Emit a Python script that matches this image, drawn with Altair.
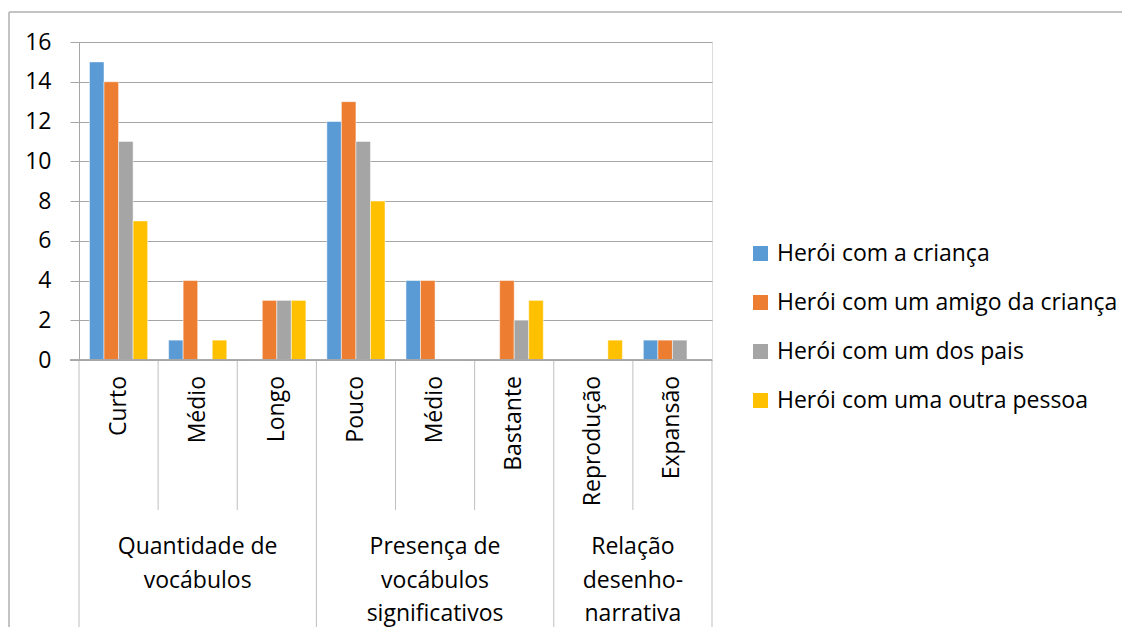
import altair as alt
import pandas as pd

subcats = ["Curto", "Médio", "Longo", "Pouco", "Médio", "Bastante", "Reprodução", "Expansão"]
series = ["Herói com a criança", "Herói com um amigo da criança",
          "Herói com um dos pais", "Herói com uma outra pessoa"]
colors = ["#5b9bd5", "#ed7d31", "#a5a5a5", "#ffc000"]
v_crianca = [15, 1, 0, 12, 4, 0, 0, 1]
v_amigo = [14, 4, 3, 13, 4, 4, 0, 1]
v_pais = [11, 0, 3, 11, 0, 2, 0, 1]
v_outra = [7, 1, 3, 8, 0, 3, 1, 0]
groups = [["Quantidade de", "vocábulos"],
          ["Presença de", "vocábulos", "significativos"],
          ["Relação", "desenho-", "narrativa"]]
group_start = [0, 3, 6]
group_end = [3, 6, 8]
y_ticks = [0, 2, 4, 6, 8, 10, 12, 14, 16]

FONT = "Open Sans"
FS = 23
W, H = 633, 318

keys = [f"{i:02d}" for i in range(len(subcats))]
rows = []
for vals, s in zip([v_crianca, v_amigo, v_pais, v_outra], series):
    for k, v in zip(keys, vals):
        rows.append({"key": k, "serie": s, "valor": v})
bars_df = pd.DataFrame(rows)

lab_df = pd.DataFrame({"key": keys, "label": subcats})

grp_df = pd.DataFrame({
    "center": [(a + b) / 2 for a, b in zip(group_start, group_end)],
    "label": groups,
})

inner_b = [i for i in range(1, len(subcats)) if i not in group_start]
outer_b = sorted(set(group_start + group_end))
sep_in = pd.DataFrame({"b": inner_b})
sep_out = pd.DataFrame({"b": outer_b})

xq = alt.Scale(domain=[0, len(subcats)], nice=False, zero=False)

bars = alt.Chart(bars_df).mark_bar(stroke="white", strokeWidth=0.5).encode(
    x=alt.X("key:N", sort=keys, axis=None,
            scale=alt.Scale(paddingInner=0, paddingOuter=0)),
    xOffset=alt.XOffset("serie:N", sort=series,
                        scale=alt.Scale(paddingInner=0, paddingOuter=0.72)),
    y=alt.Y("valor:Q", scale=alt.Scale(domain=[0, 16], nice=False),
            axis=alt.Axis(values=y_ticks, title=None, grid=True,
                          gridColor="#a6a6a6", gridWidth=1,
                          domain=True, domainColor="#a6a6a6",
                          ticks=True, tickSize=9, tickColor="#a6a6a6",
                          labelFont=FONT, labelFontSize=FS, labelColor="#000000",
                          labelPadding=19)),
    color=alt.Color("serie:N", sort=series,
                    scale=alt.Scale(domain=series, range=colors),
                    legend=alt.Legend(title=None, orient="none",
                                      legendX=670, legendY=200,
                                      symbolType="square", symbolSize=225,
                                      symbolStrokeWidth=0,
                                      labelFont=FONT, labelFontSize=FS,
                                      labelColor="#000000", labelOffset=5,
                                      rowPadding=25, labelLimit=420)),
)

sub_labels = alt.Chart(lab_df).mark_text(
    angle=270, align="right", baseline="middle",
    font=FONT, fontSize=FS, color="#000000"
).encode(
    x=alt.X("key:N", sort=keys, axis=None,
            scale=alt.Scale(paddingInner=0, paddingOuter=0)),
    y=alt.value(334),
    text="label:N",
)

grp_labels = alt.Chart(grp_df).mark_text(
    align="center", baseline="top", font=FONT, fontSize=FS,
    color="#000000", lineHeight=33.5
).encode(
    x=alt.X("center:Q", scale=xq, axis=None),
    y=alt.value(494),
    text="label",
)

rule_in = alt.Chart(sep_in).mark_rule(color="#bfbfbf", strokeWidth=1).encode(
    x=alt.X("b:Q", scale=xq, axis=None),
    y=alt.value(H), y2=alt.value(468),
)
rule_out = alt.Chart(sep_out).mark_rule(color="#bfbfbf", strokeWidth=1).encode(
    x=alt.X("b:Q", scale=xq, axis=None),
    y=alt.value(H), y2=alt.value(600),
)
axis_line = alt.Chart(sep_out).mark_rule(color="#a6a6a6", strokeWidth=1).encode(
    x=alt.value(-9), x2=alt.value(W), y=alt.value(H),
)
border_top = alt.Chart(sep_out).mark_rule(color="#bfbfbf", strokeWidth=1).encode(
    x=alt.value(-70), x2=alt.value(1060), y=alt.value(-30),
)
border_left = alt.Chart(sep_out).mark_rule(color="#bfbfbf", strokeWidth=1).encode(
    x=alt.value(-70), y=alt.value(-30), y2=alt.value(600),
)

chart = alt.layer(
    border_top, border_left, bars, rule_in, rule_out, axis_line,
    sub_labels, grp_labels
).resolve_scale(x="independent").properties(
    width=W, height=H,
    autosize=alt.AutoSizeParams(type="none"),
    padding={"left": 71, "top": 34, "right": 410, "bottom": 267},
).configure_view(stroke=None).configure(background="white")

chart.save("out.html", embed_options={"renderer": "svg", "actions": False})
